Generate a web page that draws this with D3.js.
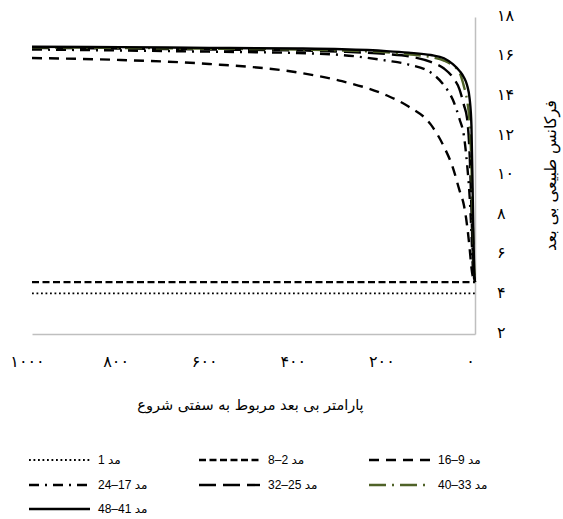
<!DOCTYPE html>
<html>
<head>
<meta charset="utf-8">
<script src="https://cdn.jsdelivr.net/npm/d3@7/dist/d3.min.js"></script>
<style>
    body { margin: 0; background: #fff; }
    svg { display: block; }
    .axis path { stroke: #bfbfbf; stroke-width: 1.5; }
    .axis text { font-family: 'DejaVu Sans', sans-serif; font-size: 16px; fill: #000; }
</style>
</head>
<body>
<svg></svg>
<script>
// stiffness parameter (x)
var kValues = [1000, 800, 600, 400, 300, 200, 150, 100, 70, 50, 35, 25, 18, 12, 8, 5, 2, 0];

var mode1    = [4.05, 4.05, 4.05, 4.05, 4.05, 4.05, 4.05, 4.05, 4.05, 4.05, 4.05, 4.05, 4.05, 4.05, 4.05, 4.05, 4.05, 4.05];
var mode2_8  = [4.62, 4.62, 4.62, 4.62, 4.62, 4.62, 4.62, 4.62, 4.62, 4.62, 4.62, 4.62, 4.62, 4.62, 4.62, 4.62, 4.62, 4.62];
var mode9_16 = [15.93, 15.83, 15.63, 15.20, 14.76, 14.05, 13.48, 12.58, 11.45, 10.40, 9.25, 8.50, 7.50, 6.30, 5.35, 4.90, 4.70, 4.62];
var mode17_24 = [16.36, 16.31, 16.25, 16.18, 16.08, 15.80, 15.60, 15.20, 14.55, 13.82, 12.85, 12.00, 10.60, 8.90, 7.10, 5.40, 4.80, 4.62];
var mode25_32 = [16.44, 16.41, 16.36, 16.31, 16.25, 16.13, 16.02, 15.73, 15.40, 14.95, 14.35, 13.55, 12.90, 11.00, 8.25, 6.00, 4.95, 4.62];
var mode33_40 = [16.47, 16.44, 16.40, 16.36, 16.31, 16.22, 16.12, 15.98, 15.80, 15.55, 15.20, 14.50, 13.81, 12.60, 10.50, 7.60, 5.40, 4.62];
var mode41_48 = [16.50, 16.48, 16.44, 16.41, 16.37, 16.28, 16.20, 16.08, 15.92, 15.62, 15.28, 14.95, 14.57, 13.85, 12.50, 8.80, 5.30, 4.62];

var seriesNames = ['مد 1', 'مد 2–8', 'مد 9–16', 'مد 17–24', 'مد 25–32', 'مد 33–40', 'مد 41–48'];
var seriesValues = [mode1, mode2_8, mode9_16, mode17_24, mode25_32, mode33_40, mode41_48];

var xTicks = [1000, 800, 600, 400, 200, 0];
var yTicks = [2, 4, 6, 8, 10, 12, 14, 16, 18];
var xTitle = 'پارامتر بی بعد مربوط به سفتی شروع';
var yTitle = 'فرکانس طبیعی بی بعد';

// line styles per series
var styles = [
    { color: '#000', width: 1.8, dash: '1.8,2.7' },
    { color: '#000', width: 2.4, dash: '7,3.5' },
    { color: '#000', width: 2.4, dash: '10,7' },
    { color: '#000', width: 2.4, dash: '10,6,2,6' },
    { color: '#000', width: 2.4, dash: '17,7' },
    { color: '#4f6228', width: 2.4, dash: '17,6,2,6' },
    { color: '#000', width: 2.4, dash: null }
];

function fa(n) {
    return String(n).replace(/\d/g, function (c) { return '۰۱۲۳۴۵۶۷۸۹'[c]; });
}

var W = 563, H = 519;
var L = 32, R = 475, T = 17, B = 334;

var root = d3.select('svg')
    .attr('width', W)
    .attr('height', H);

var x = d3.scaleLinear().domain([1000, 0]).range([L, R]);
var y = d3.scaleLinear().domain([2, 18]).range([B, T]);

var xAxis = d3.axisBottom(x)
    .tickValues(xTicks)
    .tickFormat(fa)
    .tickSize(0)
    .tickPadding(22);
var gx = root.append('g')
    .attr('class', 'axis')
    .attr('transform', 'translate(0,' + B + ')')
    .call(xAxis);
gx.selectAll('text').attr('dx', -5);

var yAxis = d3.axisRight(y)
    .tickValues(yTicks)
    .tickFormat(fa)
    .tickSize(0)
    .tickPadding(22);
var gy = root.append('g')
    .attr('class', 'axis')
    .attr('transform', 'translate(' + R + ',0)')
    .call(yAxis);
gy.selectAll('text').attr('text-anchor', 'start').attr('dy', '0.2em');

var line = d3.line()
    .x(function (d, i) { return x(kValues[i]); })
    .y(function (d) { return y(d); })
    .curve(d3.curveMonotoneX);

root.append('g')
    .selectAll('path')
    .data(seriesValues)
    .enter()
    .append('path')
    .attr('d', line)
    .attr('fill', 'none')
    .attr('stroke', function (d, i) { return styles[i].color; })
    .attr('stroke-width', function (d, i) { return styles[i].width; })
    .attr('stroke-dasharray', function (d, i) { return styles[i].dash; });

root.append('text')
    .attr('x', (L + R) / 2 - 3)
    .attr('y', 410)
    .attr('text-anchor', 'middle')
    .style('font-family', 'DejaVu Sans, sans-serif')
    .style('font-size', '14.5px')
    .text(xTitle);

root.append('text')
    .attr('transform', 'translate(550,' + ((T + B) / 2) + ') rotate(-90)')
    .attr('text-anchor', 'middle')
    .attr('dy', '0.35em')
    .style('font-family', 'DejaVu Sans, sans-serif')
    .style('font-size', '16px')
    .text(yTitle);

// legend, 3 columns
var colX = [29, 199, 369];
var rowY = [460, 485, 509];
var items = root.append('g')
    .selectAll('g.item')
    .data(seriesNames)
    .enter()
    .append('g')
    .attr('class', 'item')
    .attr('transform', function (d, i) {
        return 'translate(' + colX[i % 3] + ',' + rowY[Math.floor(i / 3)] + ')';
    });
items.append('line')
    .attr('x1', 0).attr('x2', 61)
    .attr('stroke', function (d, i) { return styles[i].color; })
    .attr('stroke-width', function (d, i) { return styles[i].width; })
    .attr('stroke-dasharray', function (d, i) { return styles[i].dash; });
items.append('text')
    .attr('x', 69)
    .attr('dy', '0.35em')
    .style('font-family', 'Liberation Sans, DejaVu Sans, sans-serif')
    .style('font-size', '12px')
    .text(function (d) { return d; });
</script>
</body>
</html>
